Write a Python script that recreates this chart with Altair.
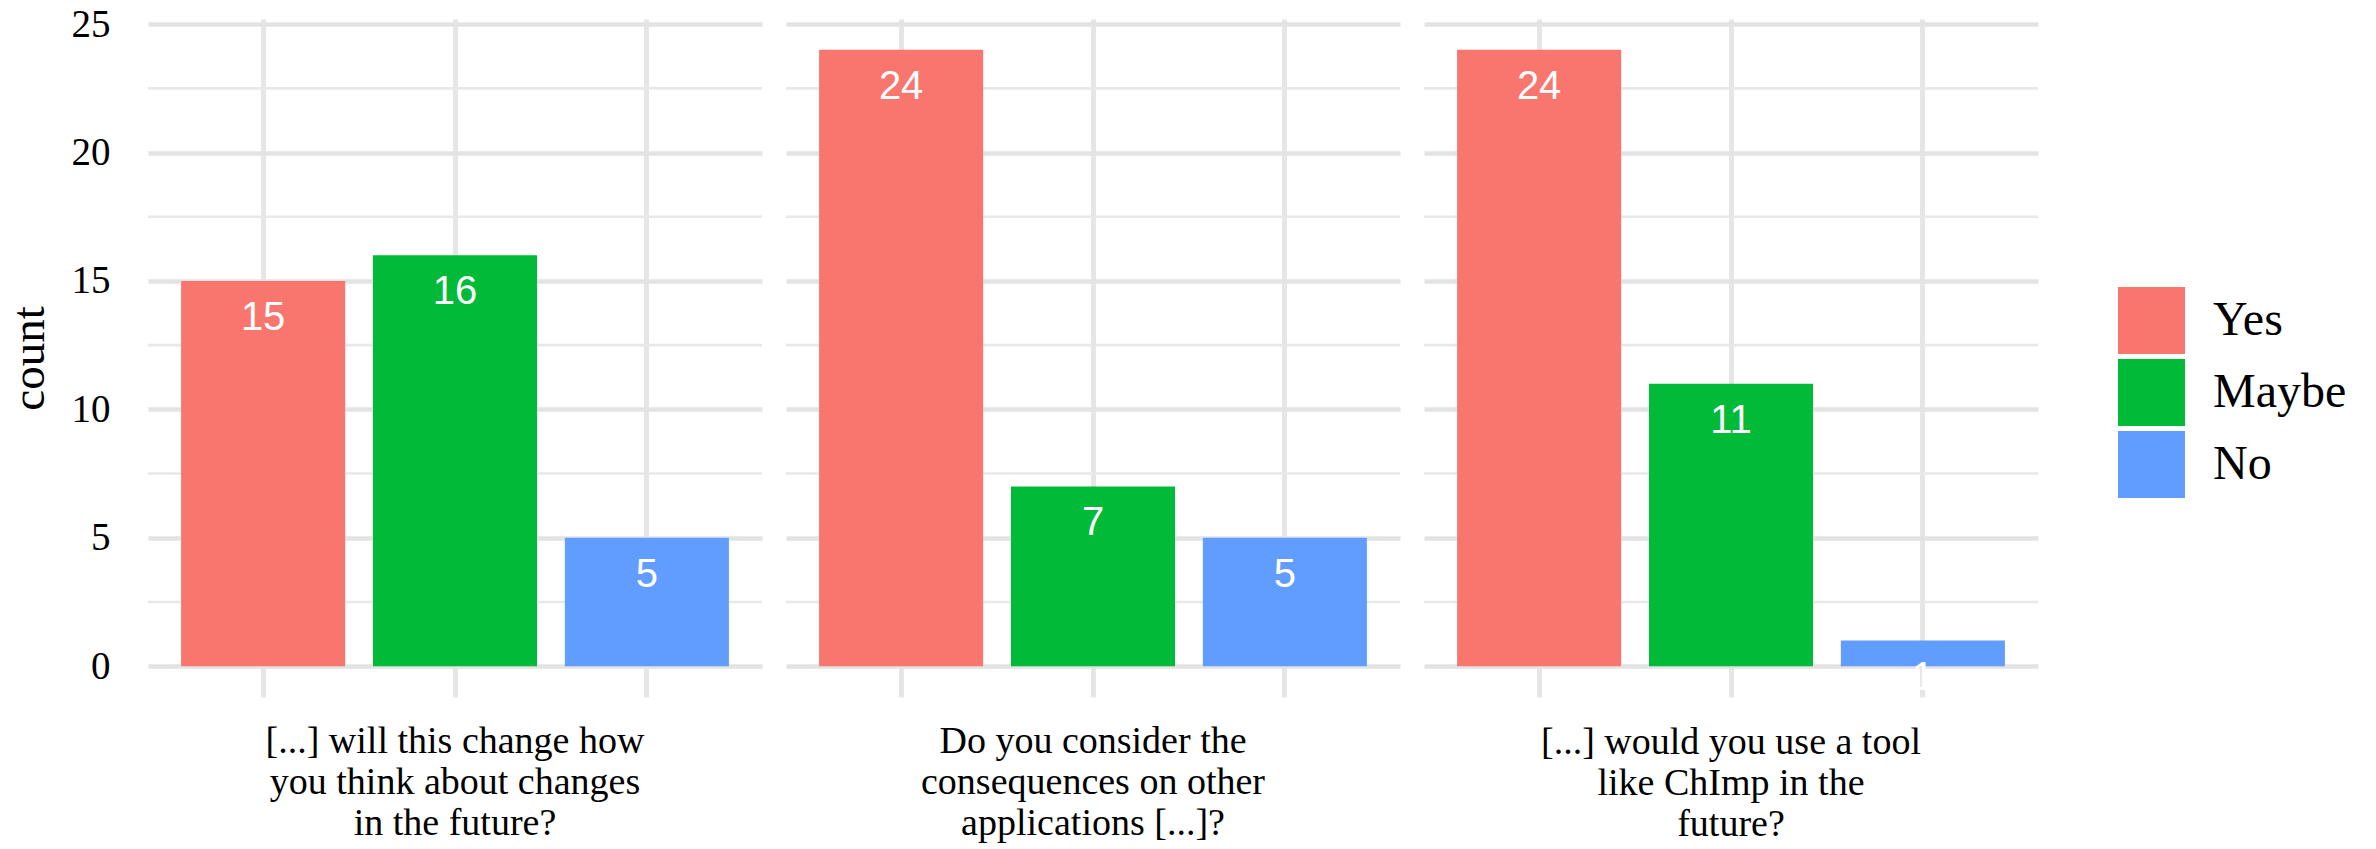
import altair as alt
import pandas as pd

# Survey questions (line breaks mark the wrapped lines of each panel label)
questions = [
    "[...] will this change how\nyou think about changes\nin the future?",
    "Do you consider the\nconsequences on other\napplications [...]?",
    "[...] would you use a tool\nlike ChImp in the\nfuture?",
]
answers = ["Yes", "Maybe", "No"]
counts_q1 = [15, 16, 5]
counts_q2 = [24, 7, 5]
counts_q3 = [24, 11, 1]
answer_colors = ["#F8766D", "#00BA38", "#619CFF"]
major_ticks = [0, 5, 10, 15, 20, 25]
minor_ticks = [2.5, 7.5, 12.5, 17.5, 22.5]

rows = []
for q, vals in zip(questions, [counts_q1, counts_q2, counts_q3]):
    for a, v in zip(answers, vals):
        rows.append({"question": q, "answer": a, "count": v})
df = pd.DataFrame(rows)

serif = "Liberation Serif"
sans = "Liberation Sans"

y_scale = alt.Scale(domain=[-1.2, 25.2], nice=False, zero=False)
y_axis = alt.Axis(
    values=major_ticks, title="count", grid=True,
    gridColor="#E3E3E3", gridWidth=4.5, ticks=False, domain=False,
    labelPadding=38, labelFont=serif, labelFontSize=39,
    labelColor="black", titleFont=serif, titleFontSize=47,
    titleFontWeight="normal", titleColor="black", titlePadding=18,
)
x_enc = alt.X(
    "answer:N",
    sort=answers,
    scale=alt.Scale(paddingInner=0.145, paddingOuter=0.1725),
    axis=alt.Axis(
        labels=False, ticks=False, domain=False, title=None,
        grid=True, gridColor="#E6E6E6", gridWidth=5, bandPosition=0.5,
    ),
)

# minor horizontal grid lines
minor_grid = alt.Chart(pd.DataFrame({"g": minor_ticks})).mark_rule(
    color="#E8E8E8", strokeWidth=2.6
).encode(y=alt.Y("g:Q", scale=y_scale, axis=y_axis, title="count"))

bars = alt.Chart().mark_bar().encode(
    x=x_enc,
    y=alt.Y("count:Q", scale=y_scale, axis=y_axis, title="count"),
    y2=alt.datum(0),
    color=alt.Color(
        "answer:N",
        scale=alt.Scale(domain=answers, range=answer_colors),
        legend=alt.Legend(
            title=None, orient="none", legendX=1970, legendY=268,
            symbolType="square", symbolSize=4489, symbolStrokeWidth=0,
            symbolOpacity=1, labelFont=serif, labelFontSize=48,
            labelColor="black", labelOffset=28, rowPadding=5, padding=0,
        ),
    ),
)

value_labels = alt.Chart().mark_text(
    font=sans, fontSize=40, color="white", dy=37, baseline="middle"
).encode(
    x=alt.X("answer:N", sort=answers),
    y=alt.Y("count:Q", scale=y_scale, title="count"),
    text="count:Q",
)

chart = (
    alt.layer(minor_grid, bars, value_labels, data=df)
    .properties(width=614, height=678)
    .facet(
        facet=alt.Facet(
            "question:N",
            sort=questions,
            header=alt.Header(
                title=None, labelOrient="bottom", labelFont=serif,
                labelFontSize=38, labelColor="black", labelPadding=26,
                labelLineHeight=41, labelExpr="split(datum.value, '\\n')",
            ),
        ),
        columns=3,
        spacing=24,
        bounds="flush",
    )
    .configure_view(stroke=None)
    .properties(padding=5)
)

chart.save("out.html", embed_options={"renderer": "svg", "actions": False})
